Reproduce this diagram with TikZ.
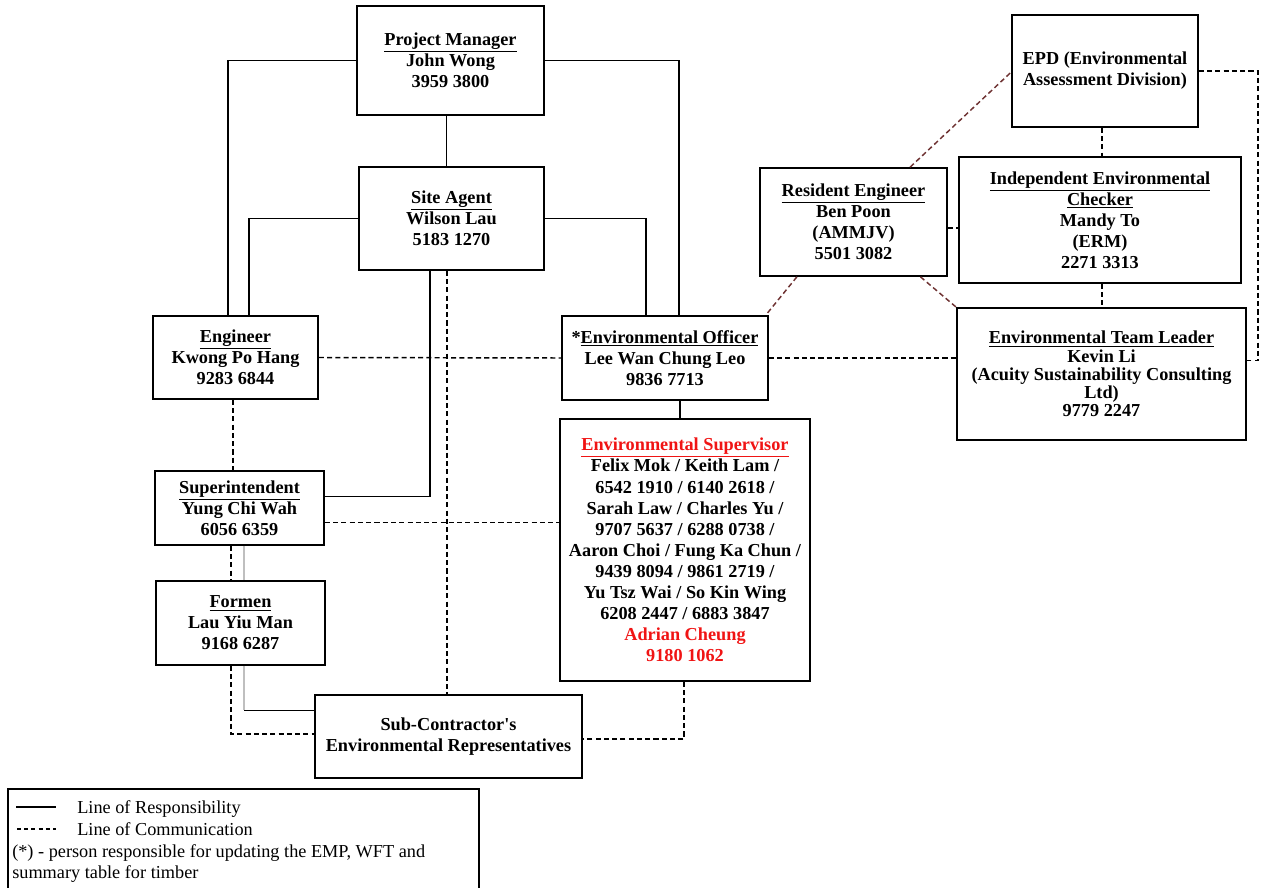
\documentclass[tikz,border=0pt]{standalone}
\usepackage{fontspec}
\setmainfont{Liberation Serif}
\newfontfamily\rawserif{Liberation Serif}
\usetikzlibrary{calc}
\definecolor{esred}{RGB}{240,20,20}
\definecolor{brn}{RGB}{110,50,50}
\tikzset{
  bx/.style n args={2}{draw, line width=1.3pt, minimum width=#1*0.75pt, minimum height=#2*0.75pt,
    inner sep=0pt, align=center, font=\fontsize{13.7}{15.8}\selectfont\bfseries},
  resp/.style={line width=1.1pt},
  grayresp/.style={line width=1.1pt, draw=black!25},
  comm/.style={line width=1.1pt, dash pattern=on 3.8pt off 2.4pt},
  bcomm/.style={comm, draw=brn},
  lg/.style={inner sep=0pt, font=\fontsize{13.7}{16}\selectfont}
}
\begin{document}
\begin{tikzpicture}[x=0.75pt,y=-0.75pt]
\useasboundingbox (0,0) rectangle (1264,888);

% ---- nodes ----
\node[bx={187}{109}] (PM) at (450.5,60.5) {\underline{Project Manager}\\John Wong\\3959 3800};
\node[bx={185}{103}] (SA) at (451.5,218.5) {\underline{Site Agent}\\Wilson Lau\\5183 1270};
\node[bx={165}{83}] (ENG) at (235.5,357.5) {\underline{Engineer}\\Kwong Po Hang\\9283 6844};
\node[bx={206}{84}] (EO) at (665,358) {*\underline{Environmental Officer}\\Lee Wan Chung Leo\\9836 7713};
\node[bx={250}{262}] (ES) at (685,550) {\textcolor{esred}{\underline{Environmental Supervisor}}\\
  Felix Mok / Keith Lam /\\6542 1910 / 6140 2618 /\\Sarah Law / Charles Yu /\\9707 5637 / 6288 0738 /\\
  Aaron Choi / Fung Ka Chun /\\9439 8094 / 9861 2719 /\\Yu Tsz Wai / So Kin Wing\\6208 2447 / 6883 3847\\
  \textcolor{esred}{Adrian Cheung}\\\textcolor{esred}{9180 1062}};
\node[bx={169}{74}] (SUP) at (239.5,508) {\underline{Superintendent}\\Yung Chi Wah\\6056 6359};
\node[bx={169}{84}] (FOR) at (240.5,623) {\underline{Formen}\\Lau Yiu Man\\9168 6287};
\node[bx={267}{83}] (SUB) at (448.5,736.5) {Sub-Contractor{\rawserif\bfseries '}s\\Environmental Representatives};
\node[bx={186}{112}] (EPD) at (1105,71) {EPD (Environmental\\Assessment Division)};
\node[bx={187}{108}] (RE) at (853.5,222) {\underline{Resident Engineer}\\Ben Poon\\(AMMJV)\\5501 3082};
\node[bx={282}{126}] (IEC) at (1100,220) {\underline{Independent Environmental}\\\underline{Checker}\\Mandy To\\(ERM)\\2271 3313};
\node[bx={289}{132}, font=\fontsize{13.7}{13.6}\selectfont\bfseries] (ETL) at (1101.5,374) {\underline{Environmental Team Leader}\\Kevin Li\\(Acuity Sustainability Consulting\\Ltd)\\9779 2247};

% ---- helper coordinates ----
\coordinate (engA) at ($(ENG.north west)!0.455!(ENG.north east)$);
\coordinate (engB) at ($(ENG.north west)!0.582!(ENG.north east)$);
\coordinate (eoA) at ($(EO.north west)!0.568!(EO.north east)$);
\coordinate (eoB) at ($(EO.north west)!0.408!(EO.north east)$);
\coordinate (pmS) at ($(PM.south west)!0.48!(PM.south east)$);
\coordinate (saS) at ($(SA.south west)!0.384!(SA.south east)$);
\coordinate (supE) at ($(SUP.north east)!0.35!(SUP.south east)$);
\coordinate (eoS) at ($(EO.south west)!0.573!(EO.south east)$);
\coordinate (supS) at ($(SUP.south west)!0.527!(SUP.south east)$);
\coordinate (forS) at ($(FOR.south west)!0.521!(FOR.south east)$);
\coordinate (subW) at ($(SUB.north west)!0.193!(SUB.south west)$);

% ---- lines of responsibility ----
\draw[resp] (PM.west) -| (engA);
\draw[resp] (PM.east) -| (eoA);
\draw[resp] (pmS) -- (pmS |- SA.north);
\draw[resp] (SA.west) -| (engB);
\draw[resp] (SA.east) -| (eoB);
\draw[resp] (saS) |- (supE);
\draw[resp] (eoS) -- (eoS |- ES.north);
\draw[grayresp] (supS) -- (supS |- FOR.north);
\draw[grayresp] (forS) -- (forS |- subW);
\draw[resp] (forS |- subW) -- (subW);

% ---- lines of communication ----
\coordinate (saD) at ($(SA.south west)!0.476!(SA.south east)$);
\coordinate (engD) at ($(ENG.south west)!0.485!(ENG.south east)$);
\coordinate (supD) at ($(SUP.north east)!0.69!(SUP.south east)$);
\coordinate (supDS) at ($(SUP.south west)!0.45!(SUP.south east)$);
\coordinate (forD) at ($(FOR.south west)!0.444!(FOR.south east)$);
\coordinate (subWD) at ($(SUB.north west)!0.47!(SUB.south west)$);
\coordinate (subED) at ($(SUB.north east)!0.53!(SUB.south east)$);
\coordinate (esD) at ($(ES.south west)!0.496!(ES.south east)$);
\coordinate (reE) at ($(RE.north east)!0.555!(RE.south east)$);
\coordinate (epdS) at ($(EPD.south west)!0.484!(EPD.south east)$);
\coordinate (iecS) at ($(IEC.south west)!0.507!(IEC.south east)$);
\coordinate (etlE) at ($(ETL.north east)!0.4!(ETL.south east)$);
\coordinate (rail) at (1258,0);

\draw[comm] (ENG.east) -- (EO.west);
\draw[comm] (saD) -- (saD |- SUB.north);
\draw[comm] (engD) -- (engD |- SUP.north);
\draw[comm] (supD) -- (supD -| ES.west);
\draw[comm] (supDS) -- (supDS |- FOR.north);
\draw[comm] (forD) |- (subWD);
\draw[comm] (esD) |- (subED);
\draw[comm] (EO.east) -- (EO.east -| ETL.west);
\draw[comm] (reE) -- (reE -| IEC.west);
\draw[comm] (epdS) -- (epdS |- IEC.north);
\draw[comm] (iecS) -- (iecS |- ETL.north);
\draw[comm] (EPD.east) -- (EPD.east -| rail) -- (rail |- etlE) -- (etlE);

% ---- brown communication lines ----
\coordinate (reN) at ($(RE.north west)!0.8!(RE.north east)$);
\coordinate (epdW) at ($(EPD.north west)!0.51!(EPD.south west)$);
\coordinate (reSa) at ($(RE.south west)!0.2!(RE.south east)$);
\coordinate (reSb) at ($(RE.south west)!0.855!(RE.south east)$);
\coordinate (eoNE) at ($(EO.north west)!0.985!(EO.north east)$);
\draw[bcomm] (reN) -- (epdW);
\draw[bcomm] (reSa) -- (eoNE);
\draw[bcomm] (reSb) -- (ETL.north west);

% ---- legend ----
\draw[line width=1.6pt] (8,789) rectangle (479,895);
\coordinate (l1a) at (16,807);
\coordinate (l1b) at (56,807);
\coordinate (l2a) at (17,829);
\coordinate (l2b) at (56,829);
\draw[resp] (l1a) -- (l1b);
\draw[line width=0.8pt, dash pattern=on 3pt off 2.4pt] (l2a) -- (l2b);
\node[lg, anchor=base west] (lresp) at (77,813) {Line of Responsibility};
\node[lg, anchor=base west] (lcomm) at (77,835) {Line of Communication};
\node[lg, anchor=base west] (note1) at (12,857) {(*) - person responsible for updating the EMP, WFT and};
\node[lg, anchor=base west] (note2) at (12,878) {summary table for timber};
\end{tikzpicture}
\end{document}
